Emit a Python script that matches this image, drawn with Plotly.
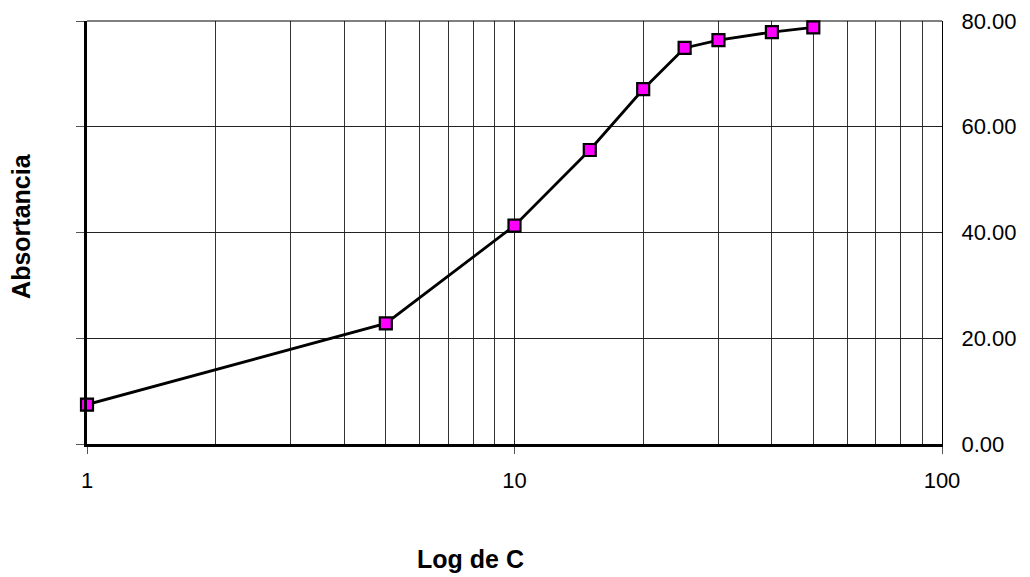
import plotly.graph_objects as go

conc = [1, 5, 10, 15, 20, 25, 30, 40, 50]
absortancia = [7.46, 22.8, 41.3, 55.6, 67.1, 74.9, 76.4, 77.9, 78.8]

x_major = [1, 10, 100]
x_major_labels = ["1", "10", "100"]
x_minor = [2, 3, 4, 5, 6, 7, 8, 9, 20, 30, 40, 50, 60, 70, 80, 90]
y_ticks = [0, 20, 40, 60, 80]

fig = go.Figure()
# invisible trace on left axis for left axis line & ticks
fig.add_trace(go.Scatter(x=[1], y=[0], yaxis="y2", mode="markers",
                         marker=dict(opacity=0), showlegend=False,
                         hoverinfo="skip"))
fig.add_trace(go.Scatter(
    x=conc, y=absortancia, mode="lines+markers", yaxis="y",
    line=dict(color="black", width=2.8),
    marker=dict(symbol="square", size=12, color="#FF00FF",
                line=dict(color="black", width=2.2)),
    cliponaxis=False, showlegend=False,
))

font = "Liberation Sans, Arial, sans-serif"
fig.update_layout(
    width=1030, height=577,
    margin=dict(l=87, r=88, t=21, b=132.5),
    paper_bgcolor="white", plot_bgcolor="white",
    font=dict(family=font, color="black", size=22),
    xaxis=dict(
        type="log", range=[0, 2], automargin=False,
        tickvals=x_major, ticktext=x_major_labels,
        ticks="outside", ticklen=7, tickcolor="#555", tickwidth=1,
        showline=True, linecolor="black", linewidth=2.5,
        showgrid=True, gridcolor="#222", gridwidth=1,
        minor=dict(tickvals=x_minor, showgrid=True, gridcolor="#333",
                   gridwidth=1, ticks=""),
        tickfont=dict(size=22), ticklabelstandoff=8,
        zeroline=False,
    ),
    yaxis=dict(
        side="right", range=[0, 80], tickvals=y_ticks, automargin=False,
        tickformat=".2f",
        showline=True, linecolor="black", linewidth=1,
        showgrid=True, gridcolor="#222", gridwidth=1,
        ticks="", tickfont=dict(size=22), ticklabelstandoff=14,
        zeroline=False,
    ),
    yaxis2=dict(
        overlaying="y", side="left", range=[0, 80], tickvals=y_ticks,
        automargin=False,
        showticklabels=False, ticks="outside", ticklen=8,
        tickcolor="#555", tickwidth=1,
        showline=True, linecolor="black", linewidth=2.5,
        showgrid=False, zeroline=False,
    ),
    shapes=[dict(type="line", xref="paper", yref="paper", x0=0, x1=1,
                 y0=1, y1=1, line=dict(color="black", width=1))],
    annotations=[
        dict(text="<b>Absortancia</b>", xref="paper", yref="paper",
             x=-0.077, y=0.516, xanchor="center", yanchor="middle",
             textangle=-90, showarrow=False,
             font=dict(size=25, family=font)),
        dict(text="<b>Log de C</b>", xref="paper", yref="paper",
             x=0.448, y=-0.273, xanchor="center", yanchor="middle",
             showarrow=False,
             font=dict(size=25, family=font)),
    ],
)

fig.write_html("out.html", config={"displayModeBar": False},
               post_script="document.body.style.margin='0';document.body.style.overflow='hidden';")
